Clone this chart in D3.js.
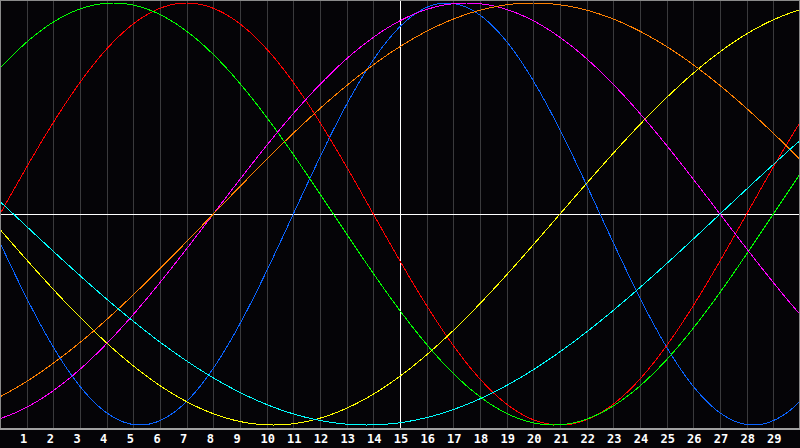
<!DOCTYPE html>
<html>
<head>
<meta charset="utf-8">
<script src="https://cdn.jsdelivr.net/npm/d3@7"></script>
<style>
  html, body { margin: 0; padding: 0; background: #050407; }
  svg { display: block; }
  .tick-label { font-family: "DejaVu Sans Mono", monospace; font-weight: bold; font-size: 12px; fill: #fff; }
</style>
</head>
<body>
<div id="chart"></div>
<script>
// Biorhythmus: sieben Zyklen über 30 Tage

// Zyklen (Periode in Tagen, Tag des Nulldurchgangs nach oben)
const cycles = ["Physical", "Emotional", "Intellectual", "Intuitive", "Aesthetic", "Awareness", "Spiritual"];
const periods = [23, 28, 33, 38, 43, 48, 53];
const zeroDays = [11, 0, 29, 8, 21, 8, 27];
const colors = ["#0a64ff", "#ff0000", "#00ff00", "#ff00ff", "#ffff00", "#ff8000", "#00ffff"];

// Achsenbeschriftung
const tickDays = [1, 2, 3, 4, 5, 6, 7, 8, 9, 10, 11, 12, 13, 14, 15, 16, 17, 18, 19, 20, 21, 22, 23, 24, 25, 26, 27, 28, 29];
const centerDay = 15;
const dayDomain = [0, 30];

const W = 800, H = 448;
const PLOT_B = 428;

const svg = d3.select("#chart").append("svg")
  .attr("width", W)
  .attr("height", H);

svg.append("rect").attr("width", W).attr("height", H).attr("fill", "#050407");

const x = d3.scaleLinear().domain(dayDomain).range([0, W]);
const y = d3.scaleLinear().domain([-1, 1]).range([425, 3]);

// Gitterlinien
svg.append("g")
  .selectAll("line")
  .data(tickDays)
  .join("line")
  .attr("x1", d => Math.round(x(d)) + 0.5)
  .attr("x2", d => Math.round(x(d)) + 0.5)
  .attr("y1", 0)
  .attr("y2", PLOT_B)
  .attr("stroke", d => d === centerDay ? "#ffffff" : "#3a3a3c")
  .attr("stroke-width", 1)
  .attr("shape-rendering", "crispEdges");

// Nulllinie
svg.append("line")
  .attr("x1", 0).attr("x2", W)
  .attr("y1", Math.round(y(0)) + 0.5).attr("y2", Math.round(y(0)) + 0.5)
  .attr("stroke", "#ffffff")
  .attr("shape-rendering", "crispEdges");

// Kurven
const samples = d3.range(dayDomain[0], dayDomain[1] + 0.001, 0.02);
const line = d3.line().x(d => x(d[0])).y(d => y(d[1]));

svg.append("g")
  .selectAll("path")
  .data(cycles)
  .join("path")
  .attr("d", (c, i) => line(samples.map(t => [t, Math.sin(2 * Math.PI * (t - zeroDays[i]) / periods[i])])))
  .attr("fill", "none")
  .attr("stroke", (c, i) => colors[i])
  .attr("stroke-width", 1)
  .attr("shape-rendering", "crispEdges");

// Rahmen
svg.append("rect")
  .attr("x", 0.5).attr("y", 0.5)
  .attr("width", W - 1).attr("height", PLOT_B - 0.5)
  .attr("fill", "none")
  .attr("stroke", "#8a8a8a")
  .attr("shape-rendering", "crispEdges");
svg.append("line")
  .attr("x1", 0).attr("x2", W)
  .attr("y1", PLOT_B + 0.5).attr("y2", PLOT_B + 0.5)
  .attr("stroke", "#a0a0a0")
  .attr("stroke-width", 2)
  .attr("shape-rendering", "crispEdges");

// Tageszahlen
svg.append("g")
  .selectAll("text")
  .data(tickDays)
  .join("text")
  .attr("class", "tick-label")
  .attr("x", d => x(d) + (d < 10 ? -3 : 1))
  .attr("y", 443)
  .attr("text-anchor", "middle")
  .text(d => d);
</script>
</body>
</html>
